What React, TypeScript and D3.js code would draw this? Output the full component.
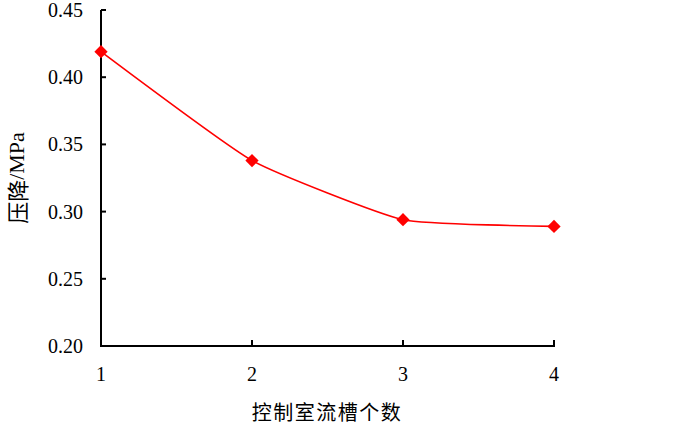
import React from "react";
import * as d3 from "d3";

const channelCounts = [1, 2, 3, 4];
const pressureDrop = [0.419, 0.338, 0.294, 0.289];
const xTicks = [1, 2, 3, 4];
const yTicks = [0.2, 0.25, 0.3, 0.35, 0.4, 0.45];

const W = 700;
const H = 425;
const M = { left: 101, right: 554, top: 10, bottom: 346 };

export default function App() {
  const x = d3.scaleLinear().domain([1, 4]).range([M.left, M.right]);
  const y = d3.scaleLinear().domain([0.2, 0.45]).range([M.bottom, M.top]);
  const data = channelCounts.map((c, i) => ({ c, v: pressureDrop[i] }));
  const line = d3
    .line<{ c: number; v: number }>()
    .x((d) => x(d.c))
    .y((d) => y(d.v))
    .curve(d3.curveCardinal.tension(0.55));
  const diamond = d3.symbol().type(d3.symbolSquare).size(88)();
  const serif = "Liberation Serif, Times New Roman, serif";
  const cjk = "Noto Sans CJK SC, sans-serif";
  return (
    <svg
      width={W}
      height={H}
      style={{ position: "absolute", left: 0, top: 0, background: "#fff" }}
    >
      <rect x={0} y={0} width={W} height={H} fill="#fff" />
      <line x1={M.left} x2={M.left} y1={M.top} y2={M.bottom} stroke="#000" strokeWidth={2} />
      <line x1={M.left - 1} x2={M.right + 1} y1={M.bottom} y2={M.bottom} stroke="#000" strokeWidth={2} />
      {yTicks.map((t) => (
        <g key={t}>
          <line x1={M.left} x2={M.left + 5} y1={y(t)} y2={y(t)} stroke="#000" strokeWidth={2} />
          <text
            x={83}
            y={y(t)}
            textAnchor="end"
            dominantBaseline="central"
            style={{ fontFamily: serif, fontSize: 20 }}
          >
            {t.toFixed(2)}
          </text>
        </g>
      ))}
      {xTicks.map((t) => (
        <g key={t}>
          <line x1={x(t)} x2={x(t)} y1={M.bottom} y2={M.bottom - 6} stroke="#000" strokeWidth={2} />
          <text
            x={x(t)}
            y={374}
            textAnchor="middle"
            dominantBaseline="central"
            style={{ fontFamily: serif, fontSize: 20 }}
          >
            {t}
          </text>
        </g>
      ))}
      <path d={line(data) || ""} fill="none" stroke="#ff0000" strokeWidth={1.6} />
      {data.map((d) => (
        <path
          key={d.c}
          d={diamond || ""}
          transform={`translate(${x(d.c)},${y(d.v)}) rotate(45)`}
          fill="#ff0000"
        />
      ))}
      <text
        x={327}
        y={411}
        textAnchor="middle"
        dominantBaseline="central"
        style={{ fontFamily: cjk, fontSize: 20, letterSpacing: 1.5 }}
      >
        控制室流槽个数
      </text>
      <text
        transform={`translate(16,178) rotate(-90)`}
        textAnchor="middle"
        dominantBaseline="central"
        style={{ fontSize: 22 }}
      >
        <tspan style={{ fontFamily: cjk }}>压降</tspan>
        <tspan style={{ fontFamily: serif }}>/MPa</tspan>
      </text>
    </svg>
  );
}
